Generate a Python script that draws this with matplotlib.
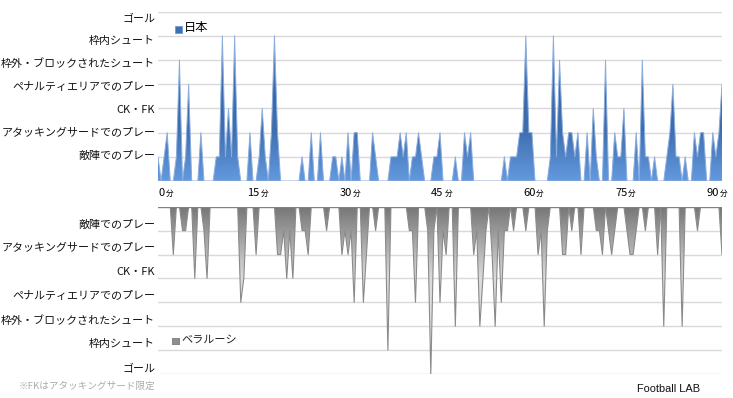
import numpy as np
import matplotlib
matplotlib.use('Agg')
import matplotlib.pyplot as plt
from matplotlib.colors import LinearSegmentedColormap
from matplotlib.patches import Polygon, Rectangle
from matplotlib.transforms import blended_transform_factory, offset_copy

plt.rcParams['font.family'] = ['Noto Sans CJK JP', 'DejaVu Sans']

# play levels, from the lowest (1) to the highest (7)
levels = ['敵陣でのプレー', 'アタッキングサードでのプレー', 'CK・FK',
          'ペナルティエリアでのプレー', '枠外・ブロックされたシュート',
          '枠内シュート', 'ゴール']
minute_ticks = [0, 15, 30, 45, 60, 75, 90]
teams = ['日本', 'ベラルーシ']

# level reached in each half minute, 0分 - 92分 (one row = 5 minutes)
japan = [
    1, 0, 1, 2, 0, 0, 1, 5, 0, 1,
    4, 0, 0, 0, 2, 0, 0, 0, 0, 1,
    1, 6, 1, 3, 1, 6, 1, 0, 0, 0,
    2, 0, 0, 1, 3, 1, 0, 2, 6, 2,
    0, 0, 0, 0, 0, 0, 0, 1, 0, 0,
    2, 0, 0, 2, 0, 0, 0, 1, 1, 0,
    1, 0, 2, 0, 2, 2, 0, 0, 0, 0,
    2, 1, 0, 0, 0, 0, 1, 1, 1, 2,
    1, 2, 0, 1, 1, 2, 1, 0, 0, 0,
    1, 1, 2, 0, 0, 0, 0, 1, 0, 0,
    2, 1, 2, 0, 0, 0, 0, 0, 0, 0,
    0, 0, 0, 1, 0, 1, 1, 1, 2, 2,
    6, 2, 2, 0, 0, 0, 0, 0, 1, 6,
    1, 5, 2, 1, 2, 2, 1, 2, 0, 0,
    2, 0, 3, 1, 0, 0, 5, 0, 0, 2,
    1, 1, 3, 0, 0, 0, 2, 0, 5, 1,
    1, 0, 1, 0, 0, 0, 1, 2, 4, 1,
    1, 0, 1, 0, 0, 2, 1, 2, 2, 0,
    0, 2, 1, 2, 4,
]
belarus = [
    0, 0, 0, 0, 0, 2, 0, 0, 1, 1,
    0, 0, 3, 0, 0, 1, 3, 0, 0, 0,
    0, 0, 0, 0, 0, 0, 0, 4, 3, 0,
    0, 0, 2, 0, 0, 0, 0, 0, 0, 2,
    2, 1, 3, 1, 3, 0, 0, 1, 1, 2,
    0, 0, 0, 0, 0, 1, 0, 0, 0, 0,
    2, 1, 2, 1, 4, 0, 0, 4, 2, 0,
    0, 1, 0, 0, 0, 6, 0, 0, 0, 0,
    0, 0, 1, 1, 4, 0, 0, 0, 1, 7,
    1, 0, 4, 1, 2, 0, 0, 5, 0, 0,
    0, 0, 0, 2, 1, 5, 3, 1, 0, 2,
    5, 1, 4, 1, 1, 0, 1, 0, 0, 0,
    1, 0, 0, 0, 2, 1, 5, 1, 0, 0,
    0, 0, 2, 2, 0, 1, 0, 0, 2, 0,
    0, 0, 0, 1, 1, 2, 0, 1, 2, 1,
    0, 0, 0, 1, 2, 2, 1, 0, 0, 1,
    0, 0, 0, 2, 0, 5, 0, 0, 0, 0,
    0, 5, 0, 0, 0, 0, 1, 0, 0, 0,
    0, 0, 0, 0, 2,
]
minutes = np.arange(len(japan)) * 0.5

W, H = 733, 398
fig = plt.figure(figsize=(W / 100, H / 100), dpi=100)


def px_box(x0, y0, x1, y1):
    return [x0 / W, 1 - y1 / H, (x1 - x0) / W, (y1 - y0) / H]


ax_top = fig.add_axes(px_box(158, 11.7, 722, 181))
ax_bot = fig.add_axes(px_box(158, 206.7, 722, 374))

blue = LinearSegmentedColormap.from_list(
    'jp', [(0, '#6399de'), (0.3, '#3e6eaf'), (0.55, '#3b69a9'), (1, '#9bb8e3')])
gray = LinearSegmentedColormap.from_list(
    'by', [(0, '#767676'), (0.42, '#d9d9d9'), (1, '#f0f0f0')])


def draw_area(ax, values, cmap, line_color, lw):
    vals = np.asarray(values, dtype=float)
    verts = np.column_stack([np.r_[minutes, minutes[::-1]],
                             np.r_[vals, np.zeros_like(vals)]])
    patch = Polygon(verts, closed=True, facecolor='none', edgecolor='none')
    ax.add_patch(patch)
    grad = np.linspace(0, 7, 300).reshape(-1, 1)
    im = ax.imshow(grad, extent=[minutes[0], minutes[-1], 0, 7], origin='lower',
                   aspect='auto', cmap=cmap, vmin=0, vmax=7,
                   interpolation='bilinear', zorder=2)
    im.set_clip_path(patch)
    ax.plot(minutes, vals, color=line_color, lw=lw, zorder=3)


draw_area(ax_top, japan, blue, '#8badde', 0.7)
draw_area(ax_bot, belarus, gray, '#8a8a8a', 0.8)

for ax in (ax_top, ax_bot):
    ax.set_xlim(0, 92)
    for k in range(1, 8):
        ax.axhline(k, color='#d9d9d9', lw=1, zorder=1)
    for s in ax.spines.values():
        s.set_visible(False)
    ax.set_xticks([])
    ax.set_yticks([])
ax_top.set_ylim(0, 7)
ax_bot.set_ylim(7, 0)
ax_top.axhline(0, color='#cfcfcf', lw=1, zorder=4)
ax_bot.axhline(0, color='#808080', lw=1, zorder=4)

# level labels
tr_top = blended_transform_factory(ax_top.transAxes, ax_top.transData)
tr_bot = blended_transform_factory(ax_bot.transAxes, ax_bot.transData)
for k, name in enumerate(levels, start=1):
    ax_top.text(-0.005, 1.036 + (k - 1) * 0.9505, name, transform=tr_top,
                ha='right', va='center', fontsize=7.9, color='#111111')
    ax_bot.text(-0.005, k - 0.25, name, transform=tr_bot,
                ha='right', va='center', fontsize=7.9, color='#111111')

# minute labels ("分" smaller)
tr_x = blended_transform_factory(ax_top.transData, ax_top.transAxes)
for m in minute_ticks:
    s = str(m)
    split = 7 + (len(s) * 6 - 7) / 2
    ax_top.text(m, -0.089, s, ha='right', va='baseline', fontsize=8,
                transform=offset_copy(tr_x, fig=fig, x=split * 0.72, units='points'))
    ax_top.text(m, -0.089, '分', ha='left', va='baseline', fontsize=5.5,
                transform=offset_copy(tr_x, fig=fig, x=(split + 1) * 0.72, units='points'))

# legends
fig.add_artist(Rectangle((175 / W, 1 - 33 / H), 6.5 / W, 7 / H, transform=fig.transFigure,
                         facecolor='#3d6fb4', edgecolor='#6f9ad6', lw=0.6))
fig.text(184 / W, 1 - 27 / H, teams[0], ha='left', va='center', fontsize=8.8)
fig.add_artist(Rectangle((172 / W, 1 - 344 / H), 6.5 / W, 6.5 / H, transform=fig.transFigure,
                         facecolor='#8f8f8f', edgecolor='#7a7a7a', lw=0.6))
fig.text(181 / W, 1 - 340 / H, teams[1], ha='left', va='center', fontsize=8, color='#222222')

fig.text(155 / W, 1 - 386.5 / H, '※FKはアタッキングサード限定', ha='right', va='center',
         fontsize=6.9, color='#aaaaaa')
fig.text(637 / W, 1 - 389.5 / H, 'Football LAB', ha='left', va='center',
         fontsize=7.9, family='Liberation Sans', color='#111111')

fig.savefig('out.png', dpi=100)
